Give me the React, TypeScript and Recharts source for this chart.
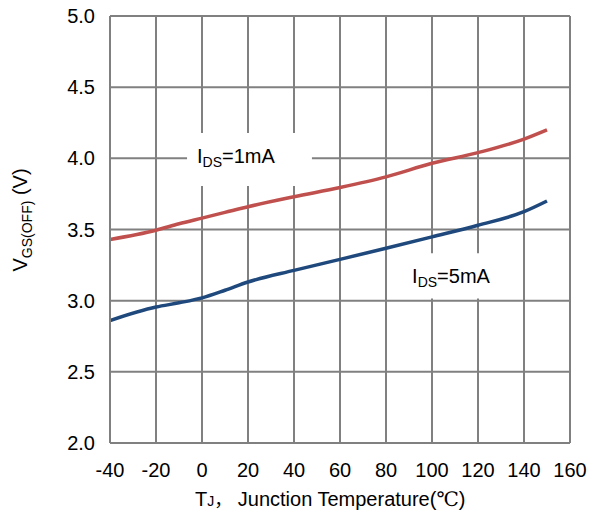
import React from 'react';
import { LineChart, Line, XAxis, YAxis, CartesianGrid, ReferenceArea } from 'recharts';

const xTicks = [-40, -20, 0, 20, 40, 60, 80, 100, 120, 140, 160];
const yTicks = [2.0, 2.5, 3.0, 3.5, 4.0, 4.5, 5.0];

const temps1mA = [-40, -20, -10, 0, 10, 20, 40, 60, 80, 100, 120, 140, 150];
const vgs1mA = [3.43, 3.495, 3.54, 3.58, 3.62, 3.66, 3.73, 3.795, 3.87, 3.965, 4.04, 4.135, 4.2];

const temps5mA = [-40, -20, -10, 0, 10, 20, 40, 60, 80, 100, 120, 140, 150];
const vgs5mA = [2.86, 2.955, 2.985, 3.02, 3.073, 3.131, 3.213, 3.29, 3.368, 3.448, 3.53, 3.625, 3.7];

const data1 = temps1mA.map((t, i) => ({ t, v: vgs1mA[i] }));
const data2 = temps5mA.map((t, i) => ({ t, v: vgs5mA[i] }));

const FONT = "'Liberation Sans', Arial, sans-serif";

const makeLabel = (sub: string, rest: string) => (props: any) => {
  const vb = props.viewBox || {};
  return (
    <text x={vb.x + 10} y={vb.y + 30} fontFamily={FONT} fontSize={20} fill="#000">
      <tspan>I</tspan>
      <tspan fontSize={14} dy={4}>{sub}</tspan>
      <tspan dy={-4}>{rest}</tspan>
    </text>
  );
};

const XTitle = (props: any) => {
  const vb = props.viewBox || {};
  return (
    <text x={vb.x + 85} y={vb.y + 63} fontFamily={FONT} fontSize={20} fill="#000">
      <tspan>T</tspan>
      <tspan fontSize={14}>J</tspan>
      <tspan fontFamily="'Noto Sans CJK SC', sans-serif" fontSize={18}>，</tspan>
      <tspan>{' Junction Temperature('}</tspan>
      <tspan fontFamily="'Liberation Serif', 'DejaVu Serif', serif">℃</tspan>
      <tspan>)</tspan>
    </text>
  );
};

const YTitle = (props: any) => {
  const vb = props.viewBox || {};
  const cx = vb.x + 19;
  const cy = vb.y + 204;
  return (
    <text x={cx} y={cy} transform={`rotate(-90 ${cx} ${cy})`} textAnchor="middle" fontFamily={FONT} fontSize={20} fill="#000">
      <tspan>V</tspan>
      <tspan fontSize={14} dy={5}>GS(OFF)</tspan>
      <tspan dy={-5}> (V)</tspan>
    </text>
  );
};

export default function App() {
  return (
    <div style={{ marginTop: -10 }}>
      <LineChart
        width={597}
        height={532}
        margin={{ top: 18, right: 35, bottom: 47, left: 0 }}
        style={{ fontFamily: FONT }}
      >
        <CartesianGrid stroke="#808080" strokeWidth={2} />
        <XAxis
          type="number"
          dataKey="t"
          domain={[-40, 160]}
          ticks={xTicks}
          interval={0}
          height={40}
          tickLine={false}
          tickSize={0}
          tickMargin={20}
          axisLine={{ stroke: '#808080', strokeWidth: 2 }}
          tick={{ fontSize: 20, fill: '#000', fontFamily: FONT }}
          label={{ content: XTitle }}
          allowDataOverflow
        />
        <YAxis
          type="number"
          domain={[2, 5]}
          ticks={yTicks}
          interval={0}
          width={102}
          tickLine={false}
          tickSize={0}
          tickMargin={15}
          axisLine={{ stroke: '#808080', strokeWidth: 2 }}
          tick={{ fontSize: 20, fill: '#000', fontFamily: FONT }}
          tickFormatter={(v: number) => v.toFixed(1)}
          label={{ content: YTitle }}
          allowDataOverflow
        />
        <ReferenceArea
          x1={-6.5}
          x2={47.8}
          y1={3.805}
          y2={4.178}
          fill="#ffffff"
          fillOpacity={1}
          stroke="none"
          label={{ content: makeLabel('DS', '=1mA') }}
        />
        <ReferenceArea
          x1={87}
          x2={134}
          y1={3.016}
          y2={3.333}
          fill="#ffffff"
          fillOpacity={1}
          stroke="none"
          label={{ content: makeLabel('DS', '=5mA') }}
        />
        <Line
          data={data1}
          dataKey="v"
          type="monotone"
          stroke="#C0504D"
          strokeWidth={3.5}
          dot={false}
          isAnimationActive={false}
        />
        <Line
          data={data2}
          dataKey="v"
          type="monotone"
          stroke="#1F497D"
          strokeWidth={3.5}
          dot={false}
          isAnimationActive={false}
        />
      </LineChart>
    </div>
  );
}
